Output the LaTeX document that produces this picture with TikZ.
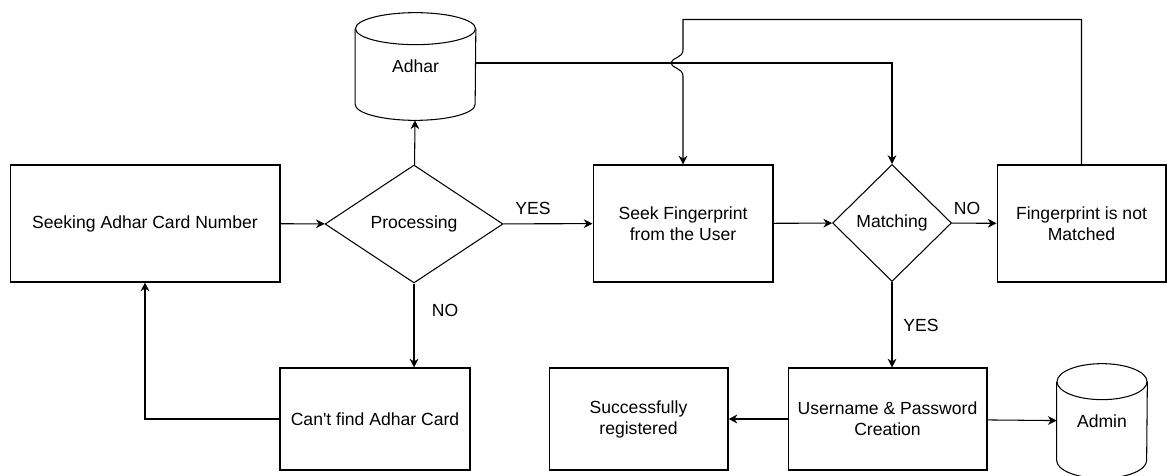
\documentclass[tikz,border=0pt]{standalone}
\usepackage{fontspec}
\setmainfont{Liberation Sans}
\usetikzlibrary{arrows.meta,shapes.geometric}

% cylinder outline round a named node: {name}{x radius}{y radius}
\newcommand\dbshape[3]{%
	\draw[line width=0.6pt] ([yshift=-#3]#1.north) ellipse [x radius=#2, y radius=#3];
	\draw[line width=0.6pt] ([yshift=-#3]#1.north west) -- ([yshift=#3]#1.south west)
		arc[start angle=180, end angle=360, x radius=#2, y radius=#3]
		-- ([yshift=-#3]#1.north east);}

\begin{document}
\begin{tikzpicture}[x=0.02cm,y=-0.02cm,
	font=\fontsize{10}{12}\selectfont,
	box/.style={draw,rectangle,align=center,line width=0.6pt},
	decision/.style={draw,diamond,inner sep=0,line width=0.6pt},
	store/.style={rectangle,inner sep=0},
	conn/.style={line width=0.6pt,-{Stealth[length=5pt,width=5pt]}}]
	\useasboundingbox (0,0) rectangle (1172,476);
	% boxes
	\node[box,minimum width=5.4cm,minimum height=2.34cm] (seek) at (145,223.5) {Seeking Adhar Card Number};
	\node[decision,minimum width=3.56cm,minimum height=2.36cm] (proc) at (414,224) {Processing};
	\node[store,minimum width=2.4cm,minimum height=2.14cm] (adhar) at (415.5,66.5) {Adhar};
	\node[box,minimum width=3.6cm,minimum height=2.34cm] (finger) at (683,223.5) {Seek Fingerprint\\from the User};
	\node[decision,minimum width=2.38cm,minimum height=2.34cm] (match) at (892,223) {Matching};
	\node[box,minimum width=3.38cm,minimum height=2.34cm] (fail) at (1081.5,223.5) {Fingerprint is not\\Matched};
	\node[box,minimum width=3.8cm,minimum height=2.04cm] (cant) at (375,419) {Can\textquotesingle t find Adhar Card};
	\node[box,minimum width=3.98cm,minimum height=2.04cm] (user) at (887.5,419) {Username \& Password\\Creation};
	\node[box,minimum width=3.58cm,minimum height=2.04cm] (done) at (638.5,419) {Successfully\\registered};
	\node[store,minimum width=1.8cm,minimum height=2.28cm] (admin) at (1102,421) {Admin};
	\dbshape{adhar}{1.2cm}{0.32cm}
	\dbshape{admin}{0.9cm}{0.36cm}
	% labels
	\node (yes1) at (533,208) {YES};
	\node (no1) at (445,310) {NO};
	\node (no2) at (967,208) {NO};
	\node (yes2) at (921,325) {YES};
	% connectors
	\draw[conn] (seek) -- (proc);
	\draw[conn] (proc) -- (adhar);
	\draw[conn] (proc) -- (finger);
	\draw[conn] (proc.south) -- (proc.south |- cant.north);
	\draw[conn] (cant.west) -| (seek.south);
	\draw[conn] ([yshift=0.07cm]adhar.east) -| (match.north);
	\draw[conn] (finger) -- (match);
	\draw[conn] (match) -- (fail);
	\draw[conn] (match.south) -- (match.south |- user.north);
	\draw[conn] (user) -- (done);
	\draw[conn] (user) -- (admin);
	\coordinate (jtop) at (683,50);
	\coordinate (jbot) at (683,76);
	\draw[conn] (fail.north) -- ++(0,-145) -| (jtop)
		.. controls (683,58) and (671,58) .. (671,63)
		.. controls (671,68) and (683,68) .. (jbot) -- (finger.north);
\end{tikzpicture}
\end{document}
